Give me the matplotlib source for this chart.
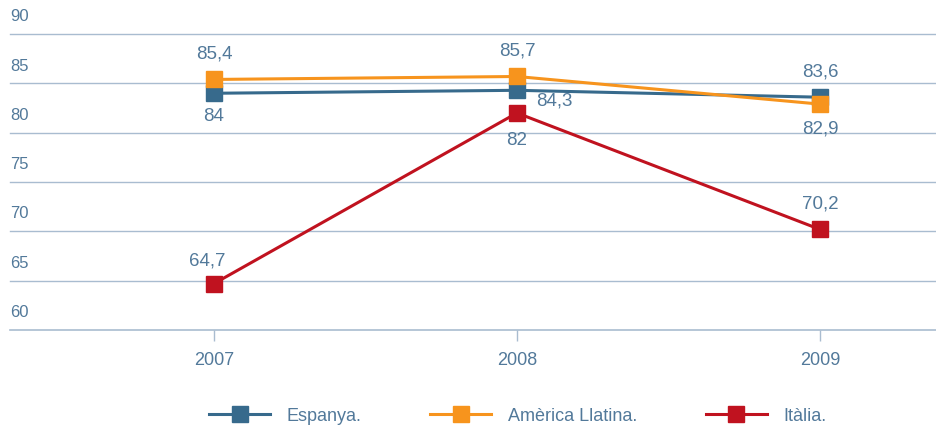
import matplotlib.pyplot as plt
from matplotlib.transforms import blended_transform_factory

# data
years = [2007, 2008, 2009]
espanya = [84, 84.3, 83.6]
america = [85.4, 85.7, 82.9]
italia = [64.7, 82, 70.2]
yticks = [60, 65, 70, 75, 80, 85, 90]

c_esp = '#376A8C'
c_am = '#F7941D'
c_it = '#C0121F'
c_txt = '#52799A'
c_grid = '#A9BCD0'

plt.rcParams['font.family'] = ['Liberation Sans', 'DejaVu Sans']

fig = plt.figure(figsize=(9.36, 4.26), dpi=100)
ax = fig.add_axes([0.0107, 0.2254, 0.9893, 0.6946])
ax.set_xlim(2007 - 0.673, 2009 + 0.383)
ax.set_ylim(60, 90)

for y in yticks:
    ax.axhline(y, color=c_grid, lw=1.2 if y == 60 else 1.0, zorder=1, clip_on=False)
    ax.text(0.0, y + 1.0, str(y), transform=blended_transform_factory(ax.transAxes, ax.transData),
            color=c_txt, fontsize=12, ha='left', va='bottom')

kw = dict(lw=2.2, marker='s', markersize=11.5, zorder=3)
ax.plot(years, italia, color=c_it, label='Itàlia.', **kw)
ax.plot(years, espanya, color=c_esp, label='Espanya.', **kw)
ax.plot(years, america, color=c_am, label='Amèrica Llatina.', **kw)

def fmt(v):
    return (f"{v:g}").replace('.', ',')

def lab(x, v, dx, dy, ha='center'):
    ax.annotate(fmt(v), (x, v), xytext=(dx, dy), textcoords='offset points',
                ha=ha, va='center', color=c_txt, fontsize=13.5)

# value labels
lab(2007, espanya[0], 0, -17)
lab(2008, espanya[1], 14, -8, 'left')
lab(2009, espanya[2], 0, 18)
lab(2007, america[0], 0, 18)
lab(2008, america[1], 0, 18)
lab(2009, america[2], 0, -18)
lab(2007, italia[0], -5, 16)
lab(2008, italia[1], 0, -20)
lab(2009, italia[2], 0, 18)

for s in ax.spines.values():
    s.set_visible(False)
ax.set_yticks([])
ax.set_xticks(years)
ax.set_xticklabels([str(y) for y in years])
ax.tick_params(axis='x', length=8, width=1, color=c_grid, labelcolor=c_txt, labelsize=13, pad=8)

h, l = ax.get_legend_handles_labels()
order = [1, 2, 0]
leg = fig.legend([h[i] for i in order], [l[i] for i in order], loc='lower center',
                 bbox_to_anchor=(0.553, -0.035), ncol=3, frameon=False, fontsize=13,
                 handlelength=3.4, handletextpad=0.9, columnspacing=3.8, markerscale=1.0)
for t in leg.get_texts():
    t.set_color(c_txt)

fig.savefig('out.png', dpi=100)
